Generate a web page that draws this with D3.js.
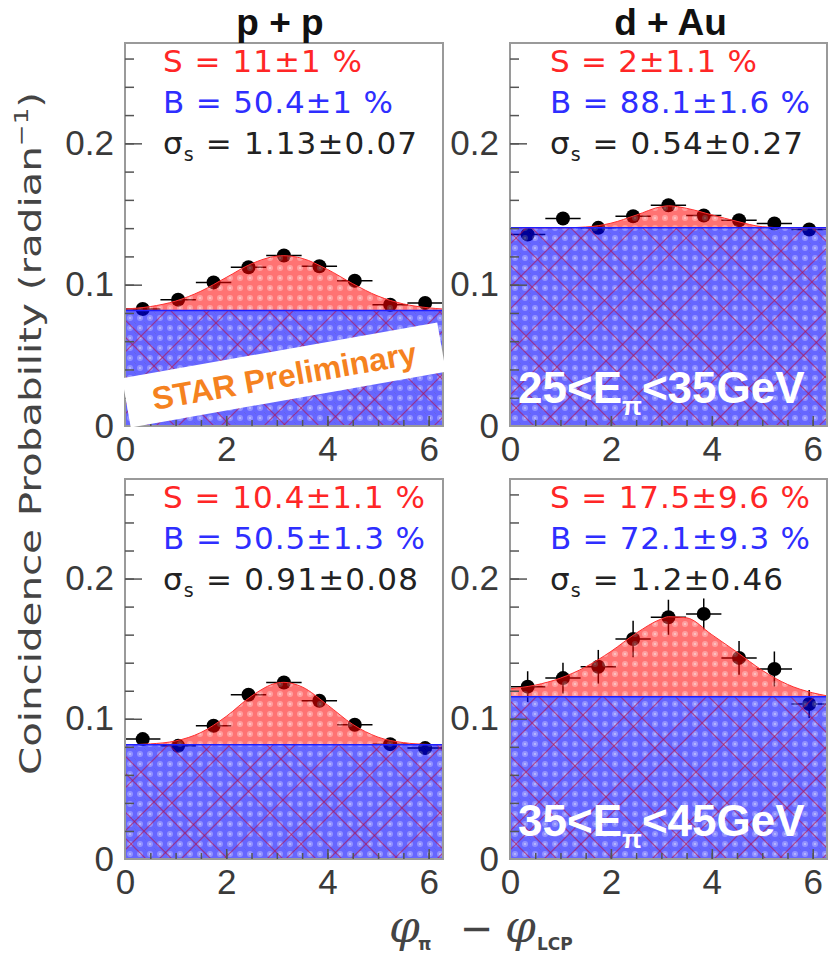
<!DOCTYPE html>
<html>
<head>
<meta charset="utf-8">
<script src="https://d3js.org/d3.v7.min.js"></script>
<style>
  body { margin: 0; background: #fff; }
  svg { display: block; }
  .lbl text { font-family: "Liberation Sans", Arial, sans-serif; font-size: 35px; fill: #3a3a3a; }
  .tk line { stroke: #555; stroke-width: 1.5; }
</style>
</head>
<body>
<svg id="chart"></svg>
<script>
const WIDTH = 829, HEIGHT = 956;

// bin centres in radian (9 bins over 0..2pi) and x error half width
const binCenters = [0.35, 1.05, 1.75, 2.44, 3.14, 3.84, 4.54, 5.24, 5.93];
const binHalf = 0.35;

// measured coincidence probabilities
const ppLow     = [0.0828, 0.0894, 0.1016, 0.1123, 0.1206, 0.1130, 0.1028, 0.0858, 0.0870];
const ppLowErr  = [0.003, 0.003, 0.003, 0.003, 0.003, 0.003, 0.003, 0.003, 0.003];
const dAuLow    = [0.1355, 0.1468, 0.1402, 0.1484, 0.1562, 0.1489, 0.1456, 0.1433, 0.1390];
const dAuLowErr = [0.004, 0.004, 0.004, 0.004, 0.0045, 0.004, 0.004, 0.004, 0.004];
const ppHigh    = [0.0855, 0.0807, 0.0950, 0.1171, 0.1259, 0.1129, 0.0957, 0.0819, 0.0791];
const ppHighErr = [0.004, 0.004, 0.004, 0.004, 0.004, 0.004, 0.004, 0.004, 0.004];
const dAuHigh   = [0.1229, 0.1290, 0.1371, 0.1569, 0.1724, 0.1748, 0.1434, 0.1355, 0.1105];
const dAuHighErr= [0.011, 0.011, 0.012, 0.013, 0.0125, 0.011, 0.012, 0.0125, 0.010];

// fit curve (signal + background)
const fitX       = [0, 0.5, 1, 1.5, 2, 2.5, 3, 3.14, 3.5, 4, 4.5, 5, 5.5, 6, 6.28];
const ppLowFit   = [0.0828, 0.0845, 0.0884, 0.0954, 0.1051, 0.1148, 0.1202, 0.1205, 0.1186, 0.1108, 0.1007, 0.0919, 0.0864, 0.0836, 0.0828];
const dAuLowFit  = [0.1402, 0.1402, 0.1402, 0.1408, 0.1435, 0.1492, 0.1552, 0.1558, 0.1540, 0.1494, 0.1448, 0.1410, 0.1402, 0.1402, 0.1402];
const ppHighFit  = [0.0815, 0.0821, 0.0842, 0.0902, 0.1017, 0.1162, 0.1255, 0.1260, 0.1227, 0.1099, 0.0960, 0.0869, 0.0830, 0.0817, 0.0815];
const dAuHighFit = [0.1214, 0.1240, 0.1290, 0.1370, 0.1480, 0.1610, 0.1712, 0.1728, 0.1720, 0.1600, 0.1475, 0.1345, 0.1245, 0.1185, 0.1164];

// flat background levels
const backgrounds = [0.0818, 0.1402, 0.0814, 0.1157];

const titles  = ["p + p", "d + Au"];
const sLines  = ["S = 11\u00b11 %", "S = 2\u00b11.1 %", "S = 10.4\u00b11.1 %", "S = 17.5\u00b19.6 %"];
const bLines  = ["B = 50.4\u00b11 %", "B = 88.1\u00b11.6 %", "B = 50.5\u00b11.3 %", "B = 72.1\u00b19.3 %"];
const sigmas  = ["1.13\u00b10.07", "0.54\u00b10.27", "0.91\u00b10.08", "1.2\u00b10.46"];
const energyBins = [["25", "35"], ["35", "45"]];
const yTickVals = [0, 0.1, 0.2];
const xTickVals = [0, 2, 4, 6];

// layout
const COL_X = [125, 510], COL_W = [318, 317];
const ROW_Y = [43, 479],  ROW_H = [383, 380];
const Y_MAX = 0.271;
const STAT_W = [[199, 230, 254], [207, 260, 253], [262, 262, 255], [260, 260, 233]];

const panels = [
  { col: 0, row: 0, y: ppLow,   err: ppLowErr,   fit: ppLowFit },
  { col: 1, row: 0, y: dAuLow,  err: dAuLowErr,  fit: dAuLowFit },
  { col: 0, row: 1, y: ppHigh,  err: ppHighErr,  fit: ppHighFit },
  { col: 1, row: 1, y: dAuHigh, err: dAuHighErr, fit: dAuHighFit }
];

const svg = d3.select('#chart').attr('width', WIDTH).attr('height', HEIGHT);
const defs = svg.append('defs');

// blue background fill with faint dotted texture
const pb = defs.append('pattern').attr('id', 'bluePat')
  .attr('patternUnits', 'userSpaceOnUse').attr('width', 10).attr('height', 10);
pb.append('rect').attr('width', 10).attr('height', 10).attr('fill', '#0000ff');
pb.append('circle').attr('cx', 5).attr('cy', 5).attr('r', 3).attr('fill', '#4848ff');
pb.append('circle').attr('cx', 5).attr('cy', 5).attr('r', 0.8).attr('fill', '#c8c8ff');
pb.append('circle').attr('cx', 0).attr('cy', 0).attr('r', 1).attr('fill', '#0000c0');
pb.append('circle').attr('cx', 10).attr('cy', 10).attr('r', 1).attr('fill', '#0000c0');

// red signal fill
const pr = defs.append('pattern').attr('id', 'redPat')
  .attr('patternUnits', 'userSpaceOnUse').attr('width', 10).attr('height', 10);
pr.append('rect').attr('width', 10).attr('height', 10).attr('fill', '#ff0000');
pr.append('circle').attr('cx', 5).attr('cy', 5).attr('r', 3).attr('fill', '#ff5050');
pr.append('circle').attr('cx', 5).attr('cy', 5).attr('r', 0.8).attr('fill', '#ffd0d0');

// red diagonal hatch lines over the background (irregular spacing)
const T = 170;
const ph = defs.append('pattern').attr('id', 'hatchPat')
  .attr('patternUnits', 'userSpaceOnUse').attr('width', T).attr('height', T);
[12, 31, 74, 96, 139].forEach(c => {
  ph.append('line').attr('x1', c).attr('y1', 0).attr('x2', 0).attr('y2', c);
  ph.append('line').attr('x1', T).attr('y1', c).attr('x2', c).attr('y2', T);
});
[7, 46, 63, 118, 151].forEach(c => {
  ph.append('line').attr('x1', c).attr('y1', 0).attr('x2', T).attr('y2', T - c);
  ph.append('line').attr('x1', 0).attr('y1', T - c).attr('x2', c).attr('y2', T);
});
ph.selectAll('line').attr('stroke', '#b01050').attr('stroke-width', 1.2).attr('stroke-opacity', 0.6);

panels.forEach((p, i) => {
  const w = COL_W[p.col], h = ROW_H[p.row];
  const x = d3.scaleLinear().domain([0, 2 * Math.PI]).range([0, w]);
  const y = d3.scaleLinear().domain([0, Y_MAX]).range([h, 0]);
  const base = backgrounds[i];

  const g = svg.append('g')
    .attr('transform', 'translate(' + COL_X[p.col] + ',' + ROW_Y[p.row] + ')');

  defs.append('clipPath').attr('id', 'clip' + i)
    .append('rect').attr('width', w).attr('height', h);

  const plot = g.append('g').attr('clip-path', 'url(#clip' + i + ')');
  plot.append('rect').attr('width', w).attr('height', h).attr('fill', '#fff');

  // data points (drawn below the translucent fills)
  const pts = binCenters.map((c, k) => ({ x: c, y: p.y[k], e: p.err[k] }));
  plot.selectAll('.hbar').data(pts).enter().append('line')
    .attr('x1', d => x(d.x - binHalf)).attr('x2', d => x(d.x + binHalf))
    .attr('y1', d => y(d.y)).attr('y2', d => y(d.y))
    .attr('stroke', '#000').attr('stroke-width', 1.5);
  plot.selectAll('.vbar').data(pts).enter().append('line')
    .attr('x1', d => x(d.x)).attr('x2', d => x(d.x))
    .attr('y1', d => y(d.y - d.e)).attr('y2', d => y(d.y + d.e))
    .attr('stroke', '#000').attr('stroke-width', 1.5);
  plot.selectAll('.pt').data(pts).enter().append('circle')
    .attr('cx', d => x(d.x)).attr('cy', d => y(d.y)).attr('r', 7).attr('fill', '#000');

  // background (blue) + signal (red)
  const bgArea = d3.area().x(d => x(d)).y0(y(0)).y1(y(base));
  const bgDom = [0, 2 * Math.PI];
  plot.append('path').attr('d', bgArea(bgDom))
    .attr('fill', 'url(#bluePat)').attr('fill-opacity', 0.6);
  plot.append('path').attr('d', bgArea(bgDom))
    .attr('fill', 'url(#hatchPat)');

  const fitPts = fitX.map((fx, k) => ({ x: fx, y: p.fit[k] }));
  const sig = d3.area().curve(d3.curveMonotoneX)
    .x(d => x(d.x)).y0(y(base)).y1(d => y(Math.max(d.y, base)));
  plot.append('path').attr('d', sig(fitPts))
    .attr('fill', 'url(#redPat)').attr('fill-opacity', 0.55);
  plot.append('path').attr('d', sig.lineY1()(fitPts))
    .attr('fill', 'none').attr('stroke', '#ff3030').attr('stroke-width', 1);
  plot.append('line').attr('x1', 0).attr('x2', w).attr('y1', y(base)).attr('y2', y(base))
    .attr('stroke', '#2020ff').attr('stroke-width', 1.5);

  // frame
  g.append('rect').attr('width', w).attr('height', h)
    .attr('fill', 'none').attr('stroke', '#9a9a9a').attr('stroke-width', 2);

  // inner ticks
  g.append('g').attr('class', 'tk')
    .call(d3.axisRight(y).tickValues(d3.range(0.02, 0.27, 0.02)).tickSize(9).tickFormat(''))
    .call(a => a.select('.domain').remove());
  g.append('g').attr('class', 'tk')
    .call(d3.axisRight(y).tickValues([0.1, 0.2]).tickSize(17).tickFormat(''))
    .call(a => a.select('.domain').remove());
  g.append('g').attr('class', 'tk').attr('transform', 'translate(0,' + h + ')')
    .call(d3.axisTop(x).tickValues(d3.range(0.5, 6.3, 0.5)).tickSize(6).tickFormat(''))
    .call(a => a.select('.domain').remove());
  g.append('g').attr('class', 'tk').attr('transform', 'translate(0,' + h + ')')
    .call(d3.axisTop(x).tickValues([2, 4, 6]).tickSize(10).tickFormat(''))
    .call(a => a.select('.domain').remove());

  // tick labels
  g.append('g').attr('class', 'lbl')
    .call(d3.axisLeft(y).tickValues(yTickVals).tickSize(0).tickPadding(11)
      .tickFormat(d => d === 0 ? '0' : d3.format('.1f')(d)))
    .call(a => a.select('.domain').remove());
  g.append('g').attr('class', 'lbl').attr('transform', 'translate(0,' + h + ')')
    .call(d3.axisBottom(x).tickValues(xTickVals).tickSize(0).tickPadding(10).tickFormat(d3.format('d')))
    .call(a => a.select('.domain').remove());

  // fit results
  const sx = p.col === 0 ? 38 : 40;
  const st = g.append('g').attr('font-family', 'DejaVu Sans, sans-serif').attr('font-size', 31);
  st.append('text').attr('x', sx).attr('y', 29).attr('fill', '#ff2626')
    .attr('textLength', STAT_W[i][0]).text(sLines[i]);
  st.append('text').attr('x', sx).attr('y', 70).attr('fill', '#2e2eff')
    .attr('textLength', STAT_W[i][1]).text(bLines[i]);
  const sg = st.append('text').attr('x', sx).attr('y', 111).attr('fill', '#222')
    .attr('textLength', STAT_W[i][2]);
  sg.append('tspan').text('\u03c3');
  sg.append('tspan').attr('font-size', 19).attr('dy', 7).text('s');
  sg.append('tspan').attr('dy', -7).text(' = ' + sigmas[i]);

  // energy window label
  if (p.col === 1) {
    const eb = energyBins[p.row];
    const et = g.append('text').attr('x', 8).attr('y', h - 23)
      .attr('font-family', 'Liberation Sans, Arial, sans-serif').attr('font-weight', 'bold')
      .attr('font-size', 44).attr('fill', '#fff');
    et.append('tspan').text(eb[0] + '<E');
    et.append('tspan').attr('font-size', 26).attr('dy', 12).text('\u03c0');
    et.append('tspan').attr('dy', -12).text('<' + eb[1] + 'GeV');
  }
});

// STAR Preliminary banner on the first panel
const banner = svg.append('g').attr('transform', 'translate(284,375) rotate(-10)');
banner.append('rect').attr('x', -160).attr('y', -25).attr('width', 320).attr('height', 50).attr('fill', '#fff');
banner.append('text').attr('x', 0).attr('y', 12).attr('text-anchor', 'middle')
  .attr('font-family', 'Liberation Sans, Arial, sans-serif').attr('font-weight', 'bold')
  .attr('font-size', 32).attr('fill', '#f5821f').text('STAR Preliminary');

// column titles
titles.forEach((t, c) => {
  svg.append('text').attr('x', COL_X[c] + COL_W[c] / 2 - (c === 0 ? 4 : -2)).attr('y', 35)
    .attr('text-anchor', 'middle').attr('font-family', 'Liberation Sans, Arial, sans-serif')
    .attr('font-weight', 'bold').attr('font-size', 37).attr('fill', '#111').text(t);
});

// y axis title
const yt = svg.append('text').attr('transform', 'translate(41,775) rotate(-90)')
  .attr('font-family', 'DejaVu Sans, sans-serif').attr('font-size', 31).attr('fill', '#444')
  .attr('textLength', 683).attr('lengthAdjust', 'spacingAndGlyphs');
yt.append('tspan').text('Coincidence Probability (radian');
yt.append('tspan').attr('font-size', 20).attr('dy', -13).text('\u22121');
yt.append('tspan').attr('dy', 13).text(')');

// x axis title
const xt = svg.append('text').attr('y', 942).attr('fill', '#444');
xt.append('tspan').attr('x', 389).attr('font-family', 'DejaVu Serif, serif').attr('font-style', 'italic')
  .attr('font-size', 44).text('\u03c6');
xt.append('tspan').attr('x', 418).attr('dy', 8).attr('font-family', 'DejaVu Sans, sans-serif')
  .attr('font-weight', 'bold').attr('font-size', 17).text('\u03c0');
xt.append('tspan').attr('x', 460).attr('dy', -8).attr('font-family', 'DejaVu Sans, sans-serif')
  .attr('font-size', 40).text('\u2212');
xt.append('tspan').attr('x', 505).attr('font-family', 'DejaVu Serif, serif').attr('font-style', 'italic')
  .attr('font-size', 44).text('\u03c6');
xt.append('tspan').attr('x', 537).attr('dy', 8).attr('font-family', 'DejaVu Sans, sans-serif')
  .attr('font-weight', 'bold').attr('font-size', 17).text('LCP');
</script>
</body>
</html>
